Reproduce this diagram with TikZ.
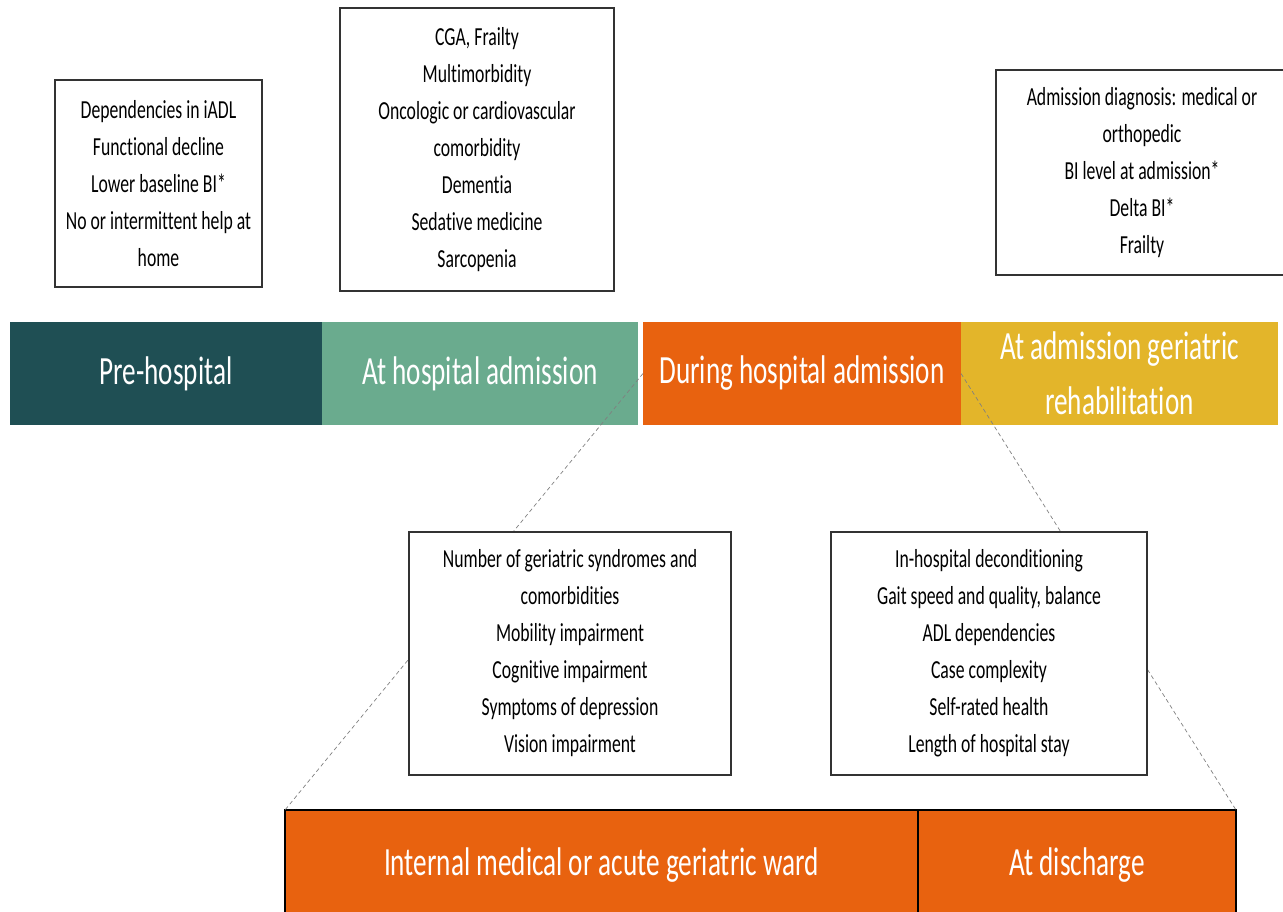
\documentclass[tikz,border=0pt]{standalone}
\usepackage{fontspec}
\setmainfont{Carlito}[FakeStretch=0.68, Ligatures=NoCommon]
\usepackage{tikz}
\usetikzlibrary{positioning}
\usepackage{xcolor}
\definecolor{preTeal}{RGB}{31,79,84}
\definecolor{admGreen}{RGB}{106,171,142}
\definecolor{durOrange}{RGB}{232,98,15}
\definecolor{rehYellow}{RGB}{227,181,42}
\tikzset{
    % Phases
    band/.style={rectangle, outer sep=0pt, inner sep=0pt, minimum height=103pt,
                 align=center, text=white, font=\fontsize{40}{55}\selectfont},
    ward/.style={band, fill=durOrange, draw=black, line width=1.5pt, minimum height=110pt},
    % Factor boxes
    factbox/.style={rectangle, draw=black!80, line width=1.5pt, fill=white,
                    inner sep=0pt, align=center, font=\fontsize{26}{37}\selectfont},
    % Zoom lines
    guide/.style={dashed, gray, line width=0.7pt, dash pattern=on 4pt off 3pt}
}
\begin{document}
\begin{tikzpicture}[x=1pt, y=-1pt, node distance=0pt]
\useasboundingbox (0,0) rectangle (1283,912);

% timeline
\node[band, fill=preTeal, minimum width=312pt] (pre) at (166,373.5) {Pre-hospital};
\node[band, fill=admGreen, minimum width=316pt, right=of pre] (adm) {At hospital admission};
\node[band, fill=durOrange, minimum width=318pt, right=5pt of adm] (dur) {During hospital admission};
\node[band, fill=rehYellow, minimum width=317pt, right=of dur] (reh) {At admission geriatric\\rehabilitation};

% hospital stay
\node[ward, minimum width=633pt, anchor=north west] (int) at (285,810) {Internal medical or acute geriatric ward};
\node[ward, minimum width=318pt, right=of int] (dis) {At discharge};

\draw[guide] (dur.west) -- (int.north west);
\draw[guide] (dur.east) -- (dis.north east);

% factors
\node[factbox, minimum width=207pt, minimum height=207pt] (fpre) at (158.5,183.5)
    {Dependencies in iADL\\Functional decline\\Lower baseline BI*\\No or intermittent help at\\home};
\node[factbox, minimum width=274pt, minimum height=283pt] (fadm) at (477,149.5)
    {CGA, Frailty\\Multimorbidity\\Oncologic or cardiovascular\\comorbidity\\Dementia\\Sedative medicine\\Sarcopenia};
\node[factbox, minimum width=292pt, minimum height=205pt] (freh) at (1142,172.5)
    {Admission diagnosis: medical or\\orthopedic\\BI level at admission*\\Delta BI*\\Frailty};
\node[factbox, minimum width=322pt, minimum height=243pt] (fint) at (570,653.5)
    {Number of geriatric syndromes and\\comorbidities\\Mobility impairment\\Cognitive impairment\\Symptoms of depression\\Vision impairment};
\node[factbox, minimum width=316pt, minimum height=243pt] (fdis) at (989,653.5)
    {In-hospital deconditioning\\Gait speed and quality, balance\\ADL dependencies\\Case complexity\\Self-rated health\\Length of hospital stay};

\end{tikzpicture}
\end{document}
